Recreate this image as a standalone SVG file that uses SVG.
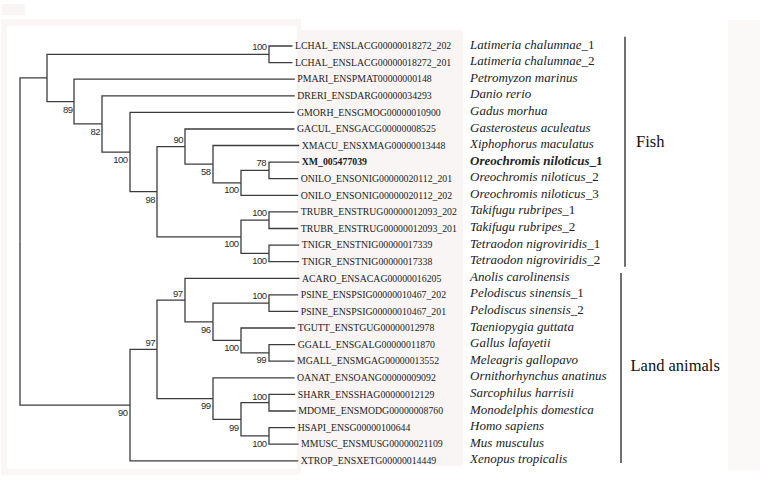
<svg xmlns="http://www.w3.org/2000/svg" width="760" height="487" viewBox="0 0 760 487">
<style>
.br{fill:none;stroke:#3c3c3c;stroke-width:1.3}
.bs{font-family:"Liberation Sans",Arial,sans-serif;font-size:9.5px;fill:#2a2a2a;text-anchor:end;letter-spacing:-0.5px}
.g{font-family:"Liberation Serif","Times New Roman",serif;font-size:9.8px;fill:#222}
.sp{font-family:"Liberation Serif","Times New Roman",serif;font-size:13px;font-style:italic;fill:#222}
.up{font-style:normal}
.b{font-weight:bold}
.grp{font-family:"Liberation Serif","Times New Roman",serif;font-size:16.5px;fill:#111}
.bar{stroke:#222;stroke-width:1.3}
</style>
<rect width="760" height="487" fill="#ffffff"/>
<rect x="2" y="4" width="23" height="11" fill="#f9f5f4"/>
<rect x="1" y="19" width="300" height="456" fill="#f9f6f5"/>
<rect x="7" y="26" width="290" height="443" fill="#ffffff"/>
<rect x="297" y="30" width="166" height="436" fill="#f9f5f4"/>
<rect x="463" y="32" width="150" height="432" fill="#ffffff"/>
<rect x="728" y="20" width="32" height="450" fill="#fbf9f8"/>
<g id="connectors">
<path class="br" d="M20 241.5V77.9H47"/>
<path class="br" d="M20 241.5V405.05H130"/>
<path class="br" d="M47 77.9V54.3H269"/>
<path class="br" d="M47 77.9V101.6H74"/>
<path class="br" d="M269 54.3V46H292.5"/>
<path class="br" d="M269 54.3V62.6H292.5"/>
<path class="br" d="M74 101.6V79.2H294.8"/>
<path class="br" d="M74 101.6V123.9H102"/>
<path class="br" d="M102 123.9V95.8H294.8"/>
<path class="br" d="M102 123.9V152.05H130"/>
<path class="br" d="M130 152.05V112.4H294.5"/>
<path class="br" d="M130 152.05V191.7H157"/>
<path class="br" d="M157 191.7V146.6H185"/>
<path class="br" d="M157 191.7V236.8H241"/>
<path class="br" d="M185 146.6V129H294.5"/>
<path class="br" d="M185 146.6V164.2H213"/>
<path class="br" d="M213 164.2V145.5H299.2"/>
<path class="br" d="M213 164.2V182.85H241"/>
<path class="br" d="M241 182.85V170.4H269"/>
<path class="br" d="M241 182.85V195.3H298.2"/>
<path class="br" d="M269 170.4V162.1H299.2"/>
<path class="br" d="M269 170.4V178.7H298.2"/>
<path class="br" d="M241 236.8V220.2H269"/>
<path class="br" d="M241 236.8V253.4H269"/>
<path class="br" d="M269 220.2V211.9H298.2"/>
<path class="br" d="M269 220.2V228.5H298.2"/>
<path class="br" d="M269 253.4V245.1H299.2"/>
<path class="br" d="M269 253.4V261.7H299.2"/>
<path class="br" d="M130 405.05V349.3H157"/>
<path class="br" d="M130 405.05V460.8H298.2"/>
<path class="br" d="M157 349.3V300.05H185"/>
<path class="br" d="M157 349.3V398.55H213"/>
<path class="br" d="M185 300.05V278.3H299.5"/>
<path class="br" d="M185 300.05V321.8H213"/>
<path class="br" d="M213 321.8V303.2H269"/>
<path class="br" d="M213 321.8V340.45H241"/>
<path class="br" d="M269 303.2V294.9H298.2"/>
<path class="br" d="M269 303.2V311.4H298.2"/>
<path class="br" d="M241 340.45V328H295.2"/>
<path class="br" d="M241 340.45V352.9H269"/>
<path class="br" d="M269 352.9V344.6H295.2"/>
<path class="br" d="M269 352.9V361.2H294.5"/>
<path class="br" d="M213 398.55V377.8H294.5"/>
<path class="br" d="M213 398.55V419.3H241"/>
<path class="br" d="M241 419.3V402.7H269"/>
<path class="br" d="M241 419.3V435.9H269"/>
<path class="br" d="M269 402.7V394.4H295.2"/>
<path class="br" d="M269 402.7V411H295.8"/>
<path class="br" d="M269 435.9V427.6H295.2"/>
<path class="br" d="M269 435.9V444.2H298.5"/>
</g>
<g id="bootstrap">
<text class="bs" x="266.5" y="50">100</text>
<text class="bs" x="72.5" y="113">89</text>
<text class="bs" x="100" y="135">82</text>
<text class="bs" x="127.5" y="163">100</text>
<text class="bs" x="183" y="143">90</text>
<text class="bs" x="210.5" y="175">58</text>
<text class="bs" x="266" y="166">78</text>
<text class="bs" x="238.5" y="193">100</text>
<text class="bs" x="155" y="203">98</text>
<text class="bs" x="266.5" y="216">100</text>
<text class="bs" x="238.5" y="247">100</text>
<text class="bs" x="266.5" y="264">100</text>
<text class="bs" x="182.5" y="297">97</text>
<text class="bs" x="266.5" y="299">100</text>
<text class="bs" x="210.5" y="333">96</text>
<text class="bs" x="238.5" y="351">100</text>
<text class="bs" x="266" y="363">99</text>
<text class="bs" x="155" y="346">97</text>
<text class="bs" x="210.5" y="409">99</text>
<text class="bs" x="238.5" y="431">99</text>
<text class="bs" x="266.5" y="400">100</text>
<text class="bs" x="266.5" y="447">100</text>
<text class="bs" x="127.5" y="416">90</text>
</g>
<g id="leaf0"><text class="g" x="295" y="49.2">LCHAL_ENSLACG00000018272_202</text><text class="sp" x="470" y="48.5">Latimeria chalumnae<tspan class="up">_1</tspan></text></g>
<g id="leaf1"><text class="g" x="295" y="65.8">LCHAL_ENSLACG00000018272_201</text><text class="sp" x="470" y="65.1">Latimeria chalumnae<tspan class="up">_2</tspan></text></g>
<g id="leaf2"><text class="g" x="297.3" y="82.4">PMARI_ENSPMAT00000000148</text><text class="sp" x="470" y="81.7">Petromyzon marinus</text></g>
<g id="leaf3"><text class="g" x="297.3" y="99">DRERI_ENSDARG00000034293</text><text class="sp" x="470" y="98.3">Danio rerio</text></g>
<g id="leaf4"><text class="g" x="297" y="115.6">GMORH_ENSGMOG00000010900</text><text class="sp" x="470" y="114.9">Gadus morhua</text></g>
<g id="leaf5"><text class="g" x="297" y="132.2">GACUL_ENSGACG00000008525</text><text class="sp" x="470" y="131.5">Gasterosteus aculeatus</text></g>
<g id="leaf6"><text class="g" x="301.7" y="148.7">XMACU_ENSXMAG00000013448</text><text class="sp" x="470" y="148">Xiphophorus maculatus</text></g>
<g id="leaf7"><text class="g b" x="301.7" y="165.3">XM_005477039</text><text class="sp b" x="470" y="164.6">Oreochromis niloticus<tspan class="up">_1</tspan></text></g>
<g id="leaf8"><text class="g" x="300.7" y="181.9">ONILO_ENSONIG00000020112_201</text><text class="sp" x="470" y="181.2">Oreochromis niloticus<tspan class="up">_2</tspan></text></g>
<g id="leaf9"><text class="g" x="300.7" y="198.5">ONILO_ENSONIG00000020112_202</text><text class="sp" x="470" y="197.8">Oreochromis niloticus<tspan class="up">_3</tspan></text></g>
<g id="leaf10"><text class="g" x="300.7" y="215.1">TRUBR_ENSTRUG00000012093_202</text><text class="sp" x="470" y="214.4">Takifugu rubripes<tspan class="up">_1</tspan></text></g>
<g id="leaf11"><text class="g" x="300.7" y="231.7">TRUBR_ENSTRUG00000012093_201</text><text class="sp" x="470" y="231">Takifugu rubripes<tspan class="up">_2</tspan></text></g>
<g id="leaf12"><text class="g" x="301.7" y="248.3">TNIGR_ENSTNIG00000017339</text><text class="sp" x="470" y="247.6">Tetraodon nigroviridis<tspan class="up">_1</tspan></text></g>
<g id="leaf13"><text class="g" x="301.7" y="264.9">TNIGR_ENSTNIG00000017338</text><text class="sp" x="470" y="264.2">Tetraodon nigroviridis<tspan class="up">_2</tspan></text></g>
<g id="leaf14"><text class="g" x="302" y="281.5">ACARO_ENSACAG00000016205</text><text class="sp" x="470" y="280.8">Anolis carolinensis</text></g>
<g id="leaf15"><text class="g" x="300.7" y="298.1">PSINE_ENSPSIG00000010467_202</text><text class="sp" x="470" y="297.4">Pelodiscus sinensis<tspan class="up">_1</tspan></text></g>
<g id="leaf16"><text class="g" x="300.7" y="314.6">PSINE_ENSPSIG00000010467_201</text><text class="sp" x="470" y="313.9">Pelodiscus sinensis<tspan class="up">_2</tspan></text></g>
<g id="leaf17"><text class="g" x="297.7" y="331.2">TGUTT_ENSTGUG00000012978</text><text class="sp" x="470" y="330.5">Taeniopygia guttata</text></g>
<g id="leaf18"><text class="g" x="297.7" y="347.8">GGALL_ENSGALG00000011870</text><text class="sp" x="470" y="347.1">Gallus lafayetii</text></g>
<g id="leaf19"><text class="g" x="297" y="364.4">MGALL_ENSMGAG00000013552</text><text class="sp" x="470" y="363.7">Meleagris gallopavo</text></g>
<g id="leaf20"><text class="g" x="297" y="381">OANAT_ENSOANG00000009092</text><text class="sp" x="470" y="380.3">Ornithorhynchus anatinus</text></g>
<g id="leaf21"><text class="g" x="297.7" y="397.6">SHARR_ENSSHAG00000012129</text><text class="sp" x="470" y="396.9">Sarcophilus harrisii</text></g>
<g id="leaf22"><text class="g" x="298.3" y="414.2">MDOME_ENSMODG00000008760</text><text class="sp" x="470" y="413.5">Monodelphis domestica</text></g>
<g id="leaf23"><text class="g" x="297.7" y="430.8">HSAPI_ENSG00000100644</text><text class="sp" x="470" y="430.1">Homo sapiens</text></g>
<g id="leaf24"><text class="g" x="301" y="447.4">MMUSC_ENSMUSG00000021109</text><text class="sp" x="470" y="446.7">Mus musculus</text></g>
<g id="leaf25"><text class="g" x="300.7" y="464">XTROP_ENSXETG00000014449</text><text class="sp" x="470" y="463.3">Xenopus tropicalis</text></g>
<g id="fish">
<line class="bar" x1="625" y1="36.7" x2="625" y2="266.7"/>
<text class="grp" x="636" y="146.7">Fish</text>
</g>
<g id="land">
<line class="bar" x1="621" y1="273" x2="621" y2="463"/>
<text class="grp" x="630.5" y="370.7">Land animals</text>
</g>
</svg>
